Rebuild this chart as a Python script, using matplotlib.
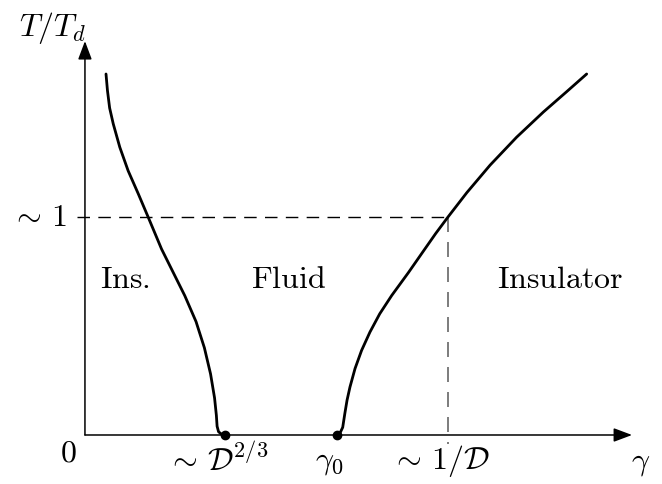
import numpy as np
import matplotlib
matplotlib.use('Agg')
import matplotlib.pyplot as plt

plt.rcParams['mathtext.fontset'] = 'cm'

# boundary curves (gamma in units of 1/D, T in units of T_d)
left_gamma = [0.058, 0.062, 0.068, 0.078, 0.096, 0.119, 0.147, 0.174, 0.211, 0.243, 0.275,
              0.306, 0.329, 0.346, 0.357, 0.362, 0.364, 0.368, 0.375, 0.386]
left_T = [1.656, 1.580, 1.500, 1.427, 1.320, 1.212, 1.106, 1.000, 0.853, 0.746, 0.639,
          0.520, 0.400, 0.280, 0.170, 0.090, 0.040, 0.015, 0.005, 0.0]

right_gamma = [0.693, 0.702, 0.710, 0.716, 0.722, 0.730, 0.744, 0.762, 0.785, 0.812,
               0.845, 0.891, 0.932, 0.966, 1.000, 1.052, 1.116, 1.189, 1.263, 1.327, 1.382]
right_T = [0.0, 0.007, 0.035, 0.100, 0.160, 0.220, 0.305, 0.388, 0.472, 0.556,
           0.640, 0.745, 0.843, 0.924, 1.000, 1.112, 1.238, 1.366, 1.482, 1.575, 1.656]

critical_pts = [0.386, 0.693]
x_marks = [0.386, 0.693, 1.0]
x_labels = [r'$\sim\,\mathcal{D}^{2/3}$', r'$\gamma_0$', r'$\sim\,1/\mathcal{D}$']
regions = [r'$\mathrm{Ins.}$', r'$\mathrm{Fluid}$', r'$\mathrm{Insulator}$']
region_x = [0.11, 0.56, 1.31]

fig = plt.figure(figsize=(6.62, 4.85), dpi=100)
ax = fig.add_axes([0, 0, 1, 1])
ax.set_xlim(-0.234, 1.5895)
ax.set_ylim(-0.2248, 2.0)
ax.axis('off')

fs = 23

# axes with arrows
arrow = dict(arrowstyle='-|>,head_length=0.8,head_width=0.3',
             lw=1.1, color='k', mutation_scale=14, shrinkA=0, shrinkB=0)
ax.annotate('', xy=(1.507, 0), xytext=(0, 0), arrowprops=arrow)
ax.annotate('', xy=(0, 1.807), xytext=(0, 0), arrowprops=arrow)

# dashed guides
ax.plot([-0.022, 1.0], [1.0, 1.0], color='k', lw=1.0, dashes=(9, 6))
ax.plot([1.0, 1.0], [1.0, -0.04], color='#666666', lw=1.2, dashes=(9, 6))

# phase boundaries
ax.plot(left_gamma, left_T, color='k', lw=2.0, solid_joinstyle='round', solid_capstyle='round')
ax.plot(right_gamma, right_T, color='k', lw=2.0, solid_joinstyle='round', solid_capstyle='round')
ax.plot(critical_pts, [0, 0], 'o', color='k', ms=6, zorder=5)

# labels
ax.text(-0.09, 1.87, r'$T/T_d$', fontsize=fs, ha='center', va='center')
ax.text(-0.05, 1.0, r'$\sim\,1$', fontsize=fs, ha='right', va='center')
ax.text(-0.047, -0.08, r'$0$', fontsize=fs, ha='center', va='center')
for xm, lab in zip(x_marks, x_labels):
    ax.text(xm - 0.02, -0.115, lab, fontsize=fs, ha='center', va='center')
ax.text(1.53, -0.12, r'$\gamma$', fontsize=fs, ha='center', va='center')
for rx, lab in zip(region_x, regions):
    ax.text(rx, 0.72, lab, fontsize=fs, ha='center', va='center')

fig.savefig('out.png', dpi=100)
